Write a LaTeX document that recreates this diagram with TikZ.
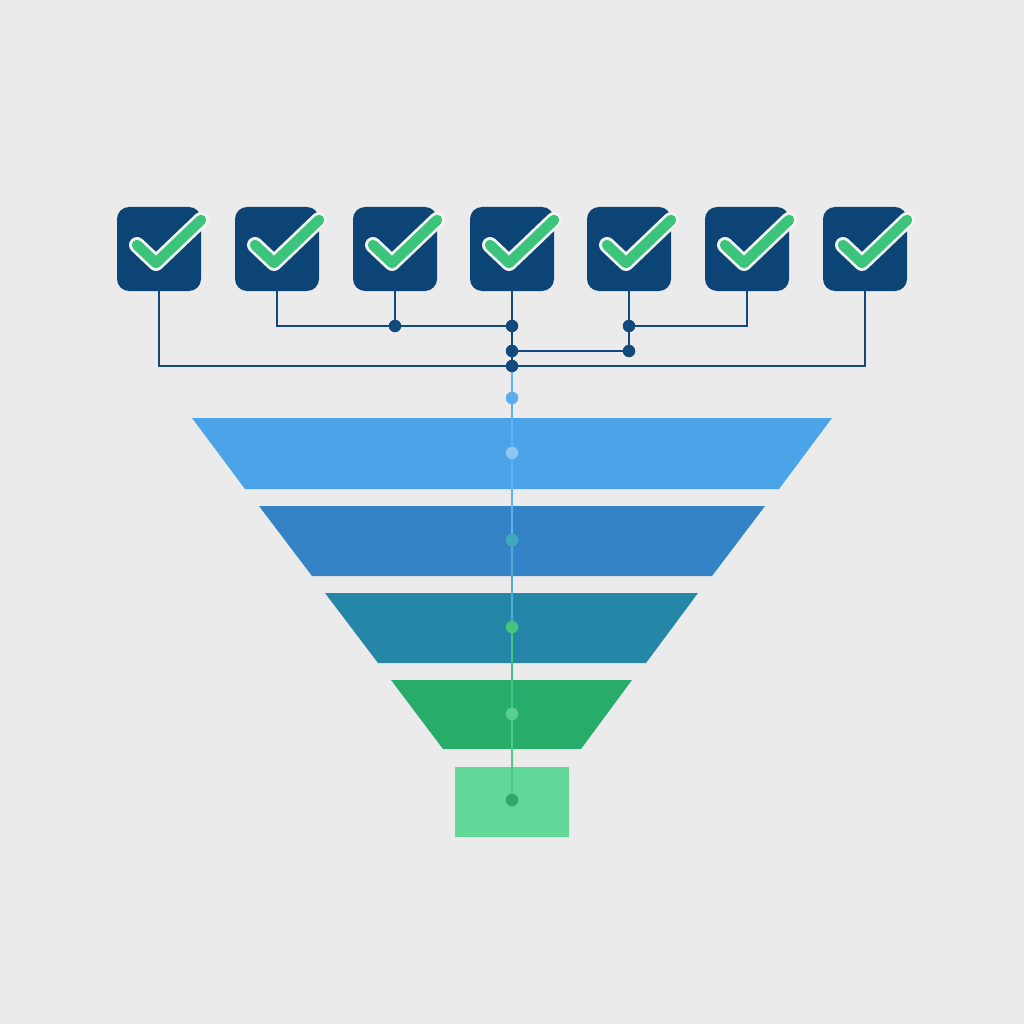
\documentclass[tikz,border=0pt]{standalone}
\begin{document}
\begin{tikzpicture}[x=1pt,y=-1pt,
  navybox/.style={fill=boxnavy, draw=none, rounded corners=12pt, minimum width=84pt, minimum height=84pt, inner sep=0pt},
  wire/.style={draw=wirenavy, line width=2.2pt},
  jdot/.style={circle, fill=wirenavy, minimum size=12.5pt, inner sep=0pt},
  fdot/.style={circle, minimum size=12.5pt, inner sep=0pt},
  checkbg/.style={draw=checkwhite, line width=16pt, line cap=round, line join=round},
  checkfg/.style={draw=checkgreen, line width=10.5pt, line cap=round, line join=round},
]
\definecolor{bg}{HTML}{EBEBEB}
\definecolor{boxnavy}{HTML}{0C4475}
\definecolor{wirenavy}{HTML}{124A7E}
\definecolor{checkgreen}{HTML}{3CC47C}
\definecolor{checkwhite}{HTML}{F2F4F2}
\definecolor{bandA}{HTML}{4BA3E8}
\definecolor{bandB}{HTML}{3483C6}
\definecolor{bandC}{HTML}{2586A8}
\definecolor{bandD}{HTML}{27AD69}
\definecolor{bandE}{HTML}{62D898}
\definecolor{lineA}{HTML}{5EB2F2}
\definecolor{lineB}{HTML}{4EAED6}
\definecolor{lineC}{HTML}{44C386}
\definecolor{lineD}{HTML}{4CCB8A}
\definecolor{dotA}{HTML}{5AAEF0}
\definecolor{dotB}{HTML}{8DC6F1}
\definecolor{dotC}{HTML}{3FA8BE}
\definecolor{dotD}{HTML}{45C480}
\definecolor{dotE}{HTML}{58CE8C}
\definecolor{dotF}{HTML}{2EA865}

\fill[bg] (0,0) rectangle (1024,1024);
\useasboundingbox (0,0) rectangle (1024,1024);

% boxes
\foreach \i/\x in {1/159,2/277,3/395,4/512,5/629,6/747,7/865}{
  \node[navybox] (b\i) at (\x,249) {};
}
% checks
\foreach \i in {1,...,7}{
  \draw[checkbg] ([shift={(-22,-4)}]b\i.center) -- ([shift={(-3,14)}]b\i.center) -- ([shift={(42,-29)}]b\i.center);
  \draw[checkfg] ([shift={(-22,-4)}]b\i.center) -- ([shift={(-3,14)}]b\i.center) -- ([shift={(42,-29)}]b\i.center);
}

% funnel bands
\fill[bandA] (192,418) -- (832,418) -- (779,489) -- (245,489) -- cycle;
\fill[bandB] (259,506) -- (765,506) -- (712,576) -- (312,576) -- cycle;
\fill[bandC] (325,593) -- (698,593) -- (646,663) -- (378,663) -- cycle;
\fill[bandD] (391,680) -- (632,680) -- (581,749) -- (443,749) -- cycle;
\fill[bandE] (455,767) rectangle (569,837);

% junction coordinates
\coordinate (k1) at (395,326);
\coordinate (j1) at (512,326);
\coordinate (j2) at (512,351);
\coordinate (j3) at (512,366);
\coordinate (k2) at (629,326);
\coordinate (k3) at (629,351);
\coordinate (d1) at (512,398);
\coordinate (d2) at (512,453);
\coordinate (d3) at (512,540);
\coordinate (d4) at (512,627);
\coordinate (d5) at (512,714);
\coordinate (d6) at (512,800);

% wires
\draw[wire] (b1.south) |- (j3);
\draw[wire] (b7.south) |- (j3);
\draw[wire] (b2.south) |- (j1);
\draw[wire] (b3.south) -- (k1);
\draw[wire] (b4.south) -- (j1) -- (j2) -- (j3);
\draw[wire] (b6.south) |- (k2);
\draw[wire] (b5.south) -- (k2) -- (k3) -- (j2);

% vertical flow line
\draw[draw=lineA, line width=2.2pt] (j3) -- (d3);
\draw[draw=lineB, line width=2.2pt] (d3) -- (d4);
\draw[draw=lineC, line width=2.2pt] (d4) -- (d5);
\draw[draw=lineD, line width=2.2pt] (d5) -- (d6);

% dots
\foreach \c in {k1,j1,j2,j3,k2,k3}{
  \node[jdot] (n\c) at (\c) {};
}
\node[fdot, fill=dotA] (m1) at (d1) {};
\node[fdot, fill=dotB] (m2) at (d2) {};
\node[fdot, fill=dotC] (m3) at (d3) {};
\node[fdot, fill=dotD] (m4) at (d4) {};
\node[fdot, fill=dotE] (m5) at (d5) {};
\node[fdot, fill=dotF] (m6) at (d6) {};
\end{tikzpicture}
\end{document}
